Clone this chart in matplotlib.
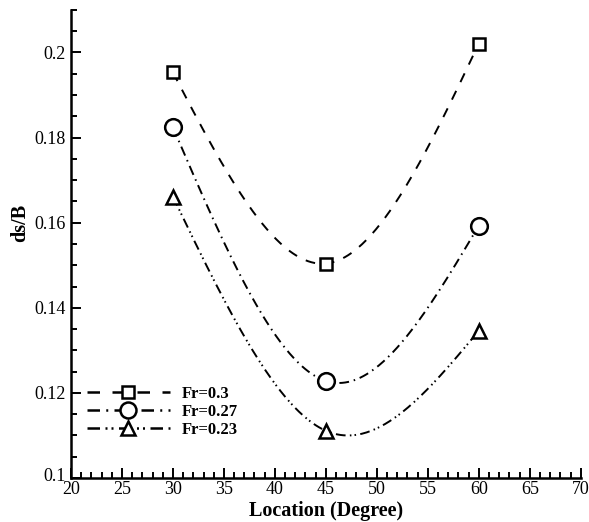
import numpy as np
import matplotlib
matplotlib.use("Agg")
import matplotlib.pyplot as plt
from matplotlib.ticker import MultipleLocator
from matplotlib.transforms import ScaledTranslation

plt.rcParams['font.family'] = ['Liberation Serif', 'DejaVu Serif']

# data
location = [30, 45, 60]
fr_030 = [0.1953, 0.1504, 0.2021]
fr_027 = [0.1824, 0.1228, 0.1593]
fr_023 = [0.1661, 0.1111, 0.1346]
labels = ["Fr=0.3", "Fr=0.27", "Fr=0.23"]


def natural_spline(x, y, n=200):
    # plain natural cubic spline through the points
    x = np.asarray(x, float)
    y = np.asarray(y, float)
    k = len(x)
    h = np.diff(x)
    A = np.zeros((k, k))
    b = np.zeros(k)
    A[0, 0] = 1
    A[-1, -1] = 1
    for i in range(1, k - 1):
        A[i, i - 1] = h[i - 1] / 6
        A[i, i] = (h[i - 1] + h[i]) / 3
        A[i, i + 1] = h[i] / 6
        b[i] = (y[i + 1] - y[i]) / h[i] - (y[i] - y[i - 1]) / h[i - 1]
    M = np.linalg.solve(A, b)
    xs = np.linspace(x[0], x[-1], n)
    ys = np.empty_like(xs)
    for j, xv in enumerate(xs):
        i = min(np.searchsorted(x, xv, side='right') - 1, k - 2)
        t1 = x[i + 1] - xv
        t0 = xv - x[i]
        ys[j] = (M[i] * t1**3 / (6 * h[i]) + M[i + 1] * t0**3 / (6 * h[i])
                 + (y[i] / h[i] - M[i] * h[i] / 6) * t1
                 + (y[i + 1] / h[i] - M[i + 1] * h[i] / 6) * t0)
    return xs, ys


fig = plt.figure(figsize=(5.89, 5.22), dpi=100)
ax = fig.add_axes([0.1205, 0.0843, 0.8655, 0.8967])

styles = [
    dict(marker='s', ms=9, dashes=(5, 5)),
    dict(marker='o', ms=12, dashes=(5, 2.5, 0.8, 2.5)),
    dict(marker='^', ms=10.5, dashes=(5, 2.2, 0.8, 1.6, 0.8, 2.2)),
]

for yvals, lab, st in zip([fr_030, fr_027, fr_023], labels, styles):
    xs, ys = natural_spline(location, yvals)
    ax.plot(xs, ys, color='black', lw=1.4, dashes=st['dashes'])
    ax.plot(location, yvals, linestyle='none', marker=st['marker'], ms=st['ms'],
            mfc='white', mec='black', mew=1.8)
    # proxy for legend: dashed line with marker in the middle
    ax.plot([], [], color='black', lw=1.8, dashes=st['dashes'], marker=st['marker'],
            ms=st['ms'] - 0.5, mfc='white', mec='black', mew=1.8, label=lab)

ax.set_xlim(20, 70)
ax.set_ylim(0.1, 0.21)
ax.xaxis.set_major_locator(MultipleLocator(5))
ax.xaxis.set_minor_locator(MultipleLocator(1))
ax.yaxis.set_minor_locator(MultipleLocator(0.005))
ax.set_yticks([0.1, 0.12, 0.14, 0.16, 0.18, 0.2])
ax.set_yticklabels(["0.1", "0.12", "0.14", "0.16", "0.18", "0.2"])

for s in ['top', 'right']:
    ax.spines[s].set_visible(False)
for s in ['left', 'bottom']:
    ax.spines[s].set_linewidth(1.8)

ax.tick_params(which='both', direction='in', width=1.4, labelsize=13)
ax.tick_params(which='major', length=7)
ax.tick_params(which='minor', length=4)
ax.tick_params(axis='x', pad=2.5)
ax.tick_params(axis='y', pad=4)
# nudge the bottom y label up a few pixels so it clears the "20"
lbl0 = ax.yaxis.get_major_ticks()[0].label1
lbl0.set_transform(lbl0.get_transform() + ScaledTranslation(0, 3 / 100, fig.dpi_scale_trans))

ax.set_xlabel("Location (Degree)", fontsize=14.5, fontweight='bold')
ax.xaxis.set_label_coords(0.5, -0.05)
ax.set_ylabel("ds/B", fontsize=14.5, fontweight='bold')
ax.yaxis.set_label_coords(-0.08, 0.545)

ax.legend(loc='upper left', bbox_to_anchor=(0.031, 0.197), frameon=False,
          borderaxespad=0, borderpad=0, handlelength=5.0, handletextpad=0.7,
          labelspacing=0.12, numpoints=1, prop={'weight': 'bold', 'size': 12})

fig.savefig("out.png", dpi=100)
